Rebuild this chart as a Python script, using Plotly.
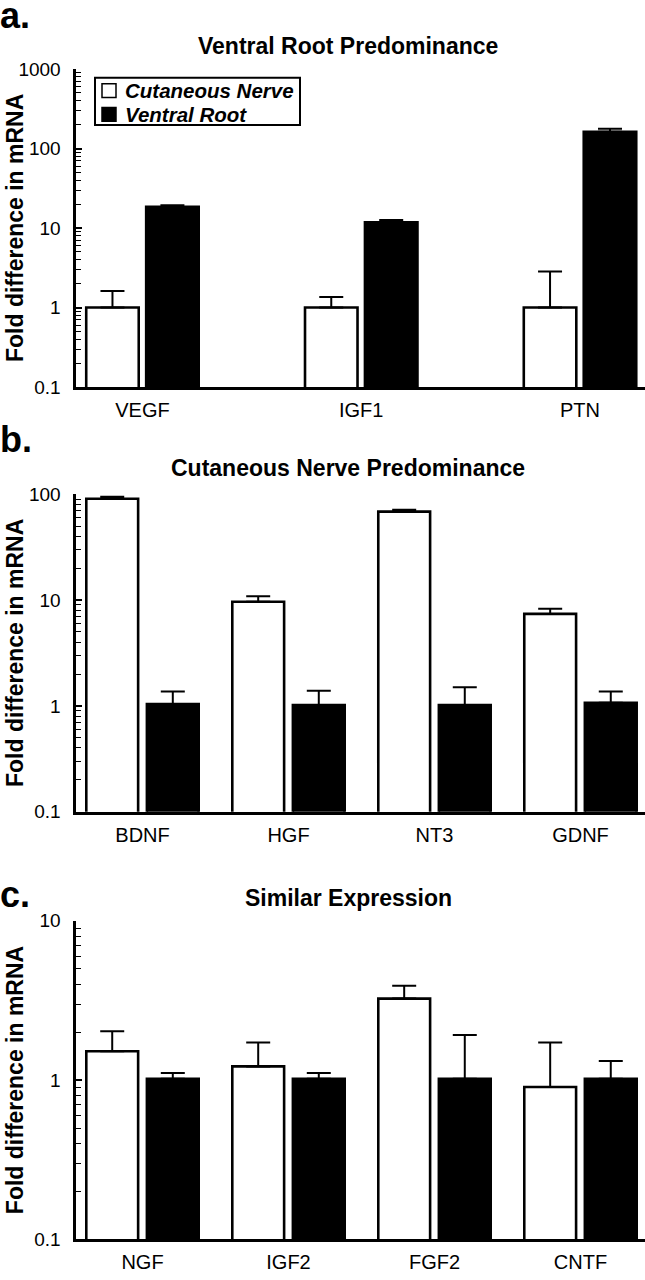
import plotly.graph_objects as go

W, H = 645, 1280

# ---------------- data ----------------
a_genes = ["VEGF", "IGF1", "PTN"]
a_cut = [1.0, 1.0, 1.0]
a_cut_top = [1.61, 1.36, 2.84]
a_vr = [18.5, 11.8, 162]
a_vr_top = [19.4, 12.6, 177]

b_genes = ["BDNF", "HGF", "NT3", "GDNF"]
b_cut = [91.0, 9.65, 68.7, 7.41]
b_cut_top = [94.8, 10.9, 71.8, 8.3]
b_vr = [1.04, 1.02, 1.02, 1.07]
b_vr_top = [1.37, 1.39, 1.50, 1.37]

c_genes = ["NGF", "IGF2", "FGF2", "CNTF"]
c_cut = [1.52, 1.22, 3.25, 0.906]
c_cut_top = [2.03, 1.72, 3.91, 1.72]
c_vr = [1.02, 1.02, 1.02, 1.02]
c_vr_top = [1.11, 1.11, 1.92, 1.32]

series_names = ["Cutaneous Nerve", "Ventral Root"]
panel_titles = ["Ventral Root Predominance", "Cutaneous Nerve Predominance", "Similar Expression"]
panel_letters = ["a.", "b.", "c."]
y_title = "Fold difference in mRNA"

FONT = "Liberation Sans, Arial, Helvetica, sans-serif"


def px(x):
    return x / W


def py(y):
    return 1 - y / H


fig = go.Figure()

panels = [
    dict(genes=a_genes, cut=a_cut, cut_top=a_cut_top, vr=a_vr, vr_top=a_vr_top,
         top=60, bottom=383.3, yrange=[-1, 3], xrange=[-0.306, 2.297],
         width=0.24, off_w=-0.257, off_b=0.017, title_y=37, letter_y=6),
    dict(genes=b_genes, cut=b_cut, cut_top=b_cut_top, vr=b_vr, vr_top=b_vr_top,
         top=492.5, bottom=815, yrange=[-1, 2], xrange=[-0.459, 3.442],
         width=0.355, off_w=-0.385, off_b=0.03, title_y=466, letter_y=437),
    dict(genes=c_genes, cut=c_cut, cut_top=c_cut_top, vr=c_vr, vr_top=c_vr_top,
         top=926, bottom=1250, yrange=[-1, 1], xrange=[-0.459, 3.442],
         width=0.355, off_w=-0.385, off_b=0.03, title_y=903, letter_y=899),
]

annotations = []
shapes = []
x_left = 75.5

for i, p in enumerate(panels):
    n = i + 1
    xa = "x" if n == 1 else f"x{n}"
    ya = "y" if n == 1 else f"y{n}"
    xs = list(range(len(p["genes"])))
    fig.add_trace(go.Bar(
        x=xs, y=p["cut"], xaxis=xa, yaxis=ya, name=series_names[0],
        width=p["width"], offset=p["off_w"], showlegend=False,
        marker=dict(color="white", line=dict(color="black", width=2.6)),
        error_y=dict(type="data", symmetric=False,
                     array=[t - v for t, v in zip(p["cut_top"], p["cut"])],
                     arrayminus=[0] * len(xs), color="black", thickness=2, width=12),
    ))
    fig.add_trace(go.Bar(
        x=xs, y=p["vr"], xaxis=xa, yaxis=ya, name=series_names[1],
        width=p["width"], offset=p["off_b"], showlegend=False,
        marker=dict(color="black", line=dict(color="black", width=2.6)),
        error_y=dict(type="data", symmetric=False,
                     array=[t - v for t, v in zip(p["vr_top"], p["vr"])],
                     arrayminus=[0] * len(xs), color="black", thickness=2, width=12),
    ))
    dom_y = [py(p["bottom"]), py(p["top"])]
    fig.update_layout(**{
        ("xaxis" if n == 1 else f"xaxis{n}"): dict(
            domain=[px(x_left), 1], anchor=ya, range=p["xrange"],
            tickmode="array", tickvals=xs, ticktext=p["genes"],
            ticks="", showline=True, linecolor="black", linewidth=3,
            showgrid=False, zeroline=False, ticklabelstandoff=3,
            tickfont=dict(family=FONT, size=20, color="black"),
        ),
        ("yaxis" if n == 1 else f"yaxis{n}"): dict(
            domain=dom_y, anchor=xa, type="log", range=p["yrange"],
            dtick=1, ticks="inside", ticklen=6, tickwidth=1.5, tickcolor="black",
            showline=True, linecolor="black", linewidth=3,
            showgrid=False, zeroline=False, ticklabelstandoff=8,
            tickfont=dict(family=FONT, size=19, color="black"),
            minor=dict(ticks="inside", ticklen=5, tickwidth=1.2, tickcolor="black",
                       dtick="D1", showgrid=False),
        ),
    })
    # panel title
    annotations.append(dict(
        text=f"<b>{panel_titles[i]}</b>", xref="paper", yref="paper",
        x=px(348), y=py(p["title_y"]), xanchor="center", yanchor="middle",
        showarrow=False, font=dict(family=FONT, size=23, color="black")))
    # y axis title
    annotations.append(dict(
        text=f"<b>{y_title}</b>", xref="paper", yref="paper",
        x=px(15), y=py((p["top"] + p["bottom"]) / 2), xanchor="center", yanchor="middle",
        textangle=-90, showarrow=False, font=dict(family=FONT, size=23, color="black")))
    # panel letter
    annotations.append(dict(
        text=f"<b>{panel_letters[i]}</b>", xref="paper", yref="paper",
        x=px(-2), y=py(p["letter_y"]), xanchor="left", yanchor="middle",
        showarrow=False, font=dict(family=FONT, size=36, color="black")))

# legend (panel a)
shapes.append(dict(type="rect", xref="paper", yref="paper",
                   x0=px(95), x1=px(300), y0=py(117), y1=py(69),
                   line=dict(color="black", width=2), fillcolor="white", layer="above"))
legend_rows = [82, 106]
legend_fill = ["white", "black"]
for yc, fc, name in zip(legend_rows, legend_fill, series_names):
    shapes.append(dict(type="rect", xref="paper", yref="paper",
                       x0=px(102), x1=px(116), y0=py(yc + 7), y1=py(yc - 7),
                       line=dict(color="black", width=1.5), fillcolor=fc, layer="above"))
    annotations.append(dict(
        text=f"<b><i>{name}</i></b>", xref="paper", yref="paper",
        x=px(123), y=py(yc), xanchor="left", yanchor="middle",
        showarrow=False, font=dict(family=FONT, size=20.5, color="black")))

fig.update_layout(
    width=W, height=H, margin=dict(l=0, r=0, t=0, b=0),
    paper_bgcolor="white", plot_bgcolor="white",
    barmode="overlay", showlegend=False,
    annotations=annotations, shapes=shapes,
    font=dict(family=FONT, color="black"),
)

fig.write_html(
    "out.html",
    config={"displayModeBar": False},
    post_script="document.body.style.margin='0';document.body.style.padding='0';"
                "document.body.style.overflow='hidden';",
)
